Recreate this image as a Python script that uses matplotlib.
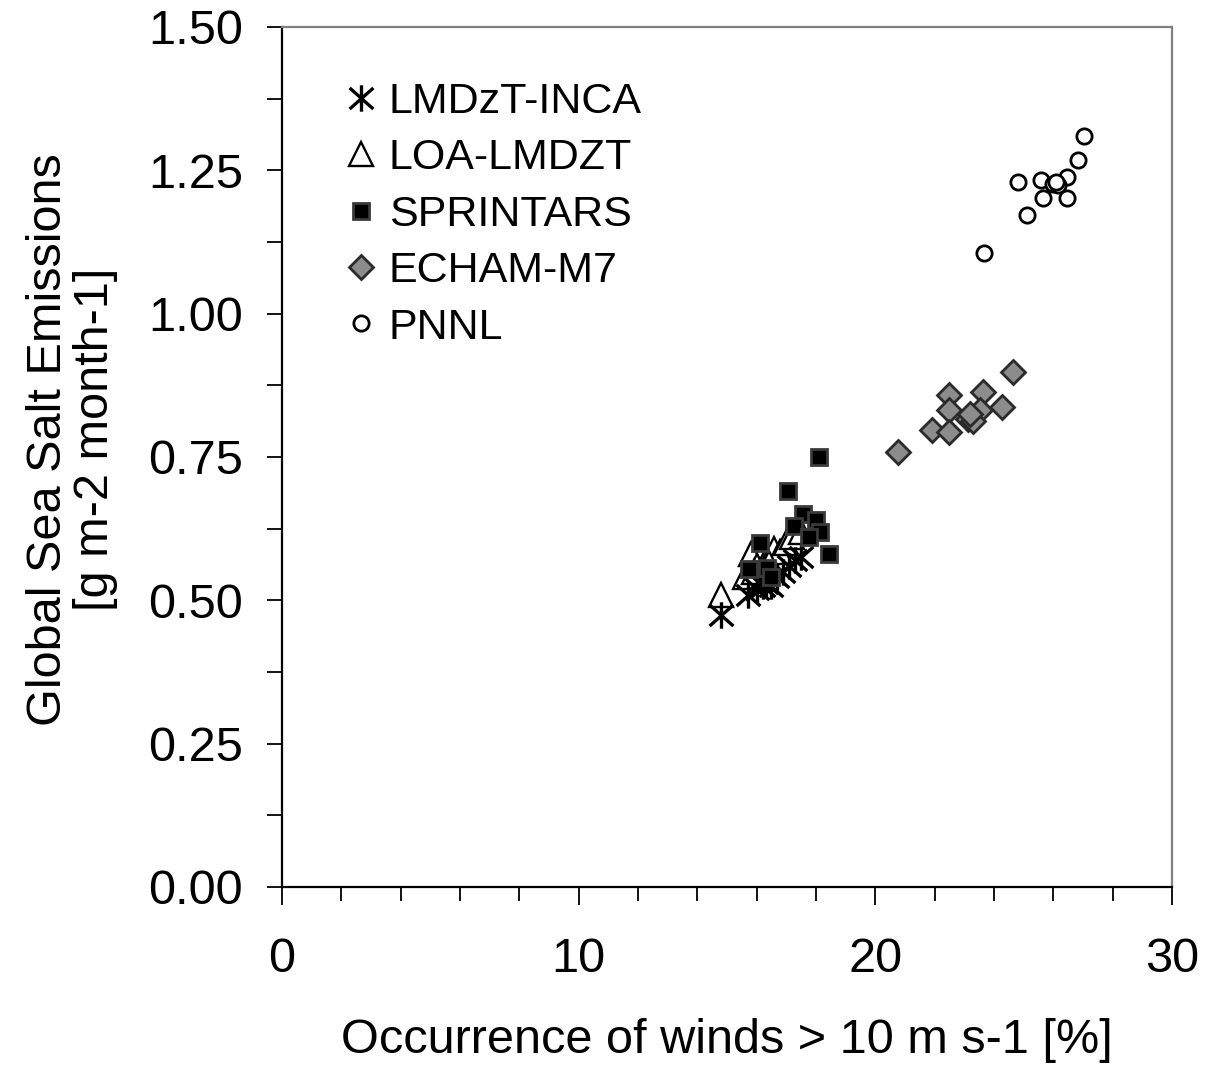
import numpy as np
import matplotlib
matplotlib.use("Agg")
import matplotlib.pyplot as plt
from matplotlib.path import Path
from matplotlib.ticker import MultipleLocator, FormatStrFormatter

plt.rcParams['font.family'] = ['Liberation Sans', 'DejaVu Sans']

# monthly values per model
inca_x = [14.8, 15.7, 16.0, 16.2, 16.3, 16.5, 16.7, 16.9, 17.1, 17.3, 17.5, 16.1]
inca_y = [0.475, 0.51, 0.52, 0.525, 0.53, 0.525, 0.54, 0.55, 0.56, 0.57, 0.575, 0.535]

loa_x = [14.8, 15.6, 15.8, 16.0, 16.3, 16.6, 16.8, 17.0, 17.2, 15.9, 16.4, 17.5]
loa_y = [0.51, 0.54, 0.58, 0.56, 0.57, 0.59, 0.585, 0.60, 0.61, 0.55, 0.565, 0.62]

spr_x = [18.1, 17.05, 17.55, 17.25, 18.0, 18.15, 17.75, 18.45, 16.1, 15.75, 16.35, 16.5]
spr_y = [0.75, 0.69, 0.65, 0.63, 0.64, 0.62, 0.61, 0.58, 0.60, 0.555, 0.557, 0.54]

echam_x = [24.65, 22.48, 23.64, 22.48, 24.26, 23.53, 23.13, 23.30, 21.90, 22.49, 20.77, 23.2]
echam_y = [0.899, 0.858, 0.864, 0.832, 0.837, 0.832, 0.817, 0.812, 0.797, 0.794, 0.759, 0.825]

pnnl_x = [27.03, 26.82, 24.82, 25.60, 26.0, 26.47, 26.17, 25.64, 26.47, 25.10, 23.66, 26.1]
pnnl_y = [1.310, 1.268, 1.230, 1.234, 1.226, 1.238, 1.224, 1.201, 1.201, 1.172, 1.106, 1.23]

# asterisk like the excel one: vertical bar plus an x
star = Path([(0, -1), (0, 1), (-0.9, -0.8), (0.9, 0.8), (-0.9, 0.8), (0.9, -0.8)],
            [Path.MOVETO, Path.LINETO, Path.MOVETO, Path.LINETO, Path.MOVETO, Path.LINETO])

fig = plt.figure(figsize=(12.05, 10.67), dpi=100)
ax = fig.add_axes([0.234, 0.1687, 0.7386, 0.806])

ax.plot(loa_x, loa_y, ls='none', marker='^', ms=17, mfc='white', mec='black', mew=1.7,
        label='LOA-LMDZT', zorder=2)
ax.plot(inca_x, inca_y, ls='none', marker=star, ms=19, mec='black', mew=2.4,
        label='LMDzT-INCA', zorder=3)
ax.plot(spr_x, spr_y, ls='none', marker='s', ms=11, mfc='black', mec='#3a3a3a', mew=2,
        label='SPRINTARS', zorder=4)
ax.plot(echam_x, echam_y, ls='none', marker='D', ms=12, mfc='#8c8c8c', mec='#2a2a2a', mew=2,
        label='ECHAM-M7', zorder=4)
ax.plot(pnnl_x, pnnl_y, ls='none', marker='o', ms=11, mfc='white', mec='black', mew=2,
        label='PNNL', zorder=4)

ax.set_xlim(0, 30)
ax.set_ylim(0, 1.5)
ax.xaxis.set_major_locator(MultipleLocator(10))
ax.xaxis.set_minor_locator(MultipleLocator(2))
ax.yaxis.set_major_locator(MultipleLocator(0.25))
ax.yaxis.set_minor_locator(MultipleLocator(0.125))
ax.yaxis.set_major_formatter(FormatStrFormatter('%.2f'))

ax.tick_params(axis='x', which='major', direction='out', length=13, width=1.3, pad=23, labelsize=35)
ax.tick_params(axis='x', which='minor', direction='out', length=10, width=1.3)
ax.tick_params(axis='y', which='both', direction='out', length=11, width=1.3, pad=17, labelsize=35)

for s in ['left', 'bottom']:
    ax.spines[s].set_color('black')
    ax.spines[s].set_linewidth(1.6)
for s in ['top', 'right']:
    ax.spines[s].set_color('#808080')
    ax.spines[s].set_linewidth(1.6)

ax.set_xlabel('Occurrence of winds > 10 m s-1 [%]', fontsize=35)
ax.xaxis.set_label_coords(0.5, -0.152)
ax.set_ylabel('Global Sea Salt Emissions\n[g m-2 month-1]', fontsize=35, linespacing=1.05)
ax.yaxis.set_label_coords(-0.184, 0.52)

h, l = ax.get_legend_handles_labels()
order = [1, 0, 2, 3, 4]
ax.legend([h[i] for i in order], [l[i] for i in order], loc='upper left',
          bbox_to_anchor=(0.052, 0.956), frameon=False, fontsize=31,
          handlelength=0.7, handletextpad=0.3, labelspacing=0.38, borderaxespad=0)

fig.savefig('out.png', dpi=100)
